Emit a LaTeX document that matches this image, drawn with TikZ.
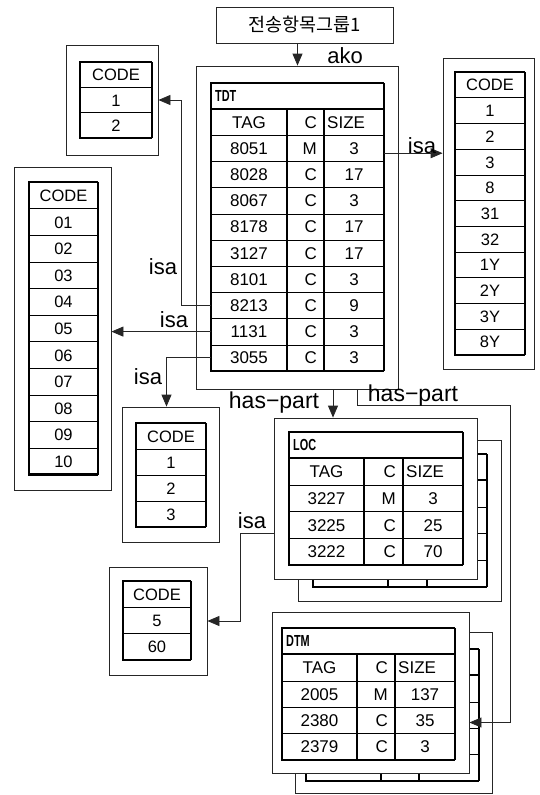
\documentclass[tikz,border=0pt]{standalone}
\usepackage{fontspec}
\usepackage{graphicx}
\setmainfont{Liberation Sans}
\newfontfamily\krfont{Noto Sans CJK KR}
\usetikzlibrary{arrows.meta}

\begin{document}
\begin{tikzpicture}[x=1pt,y=-1pt,font=\fontsize{17}{17}\selectfont]
\tikzstyle{outerbox}=[draw=black!85,line width=0.8pt,fill=white,inner sep=0pt]
\tikzstyle{heavy}=[line width=2.4pt]
\tikzstyle{rowline}=[line width=0.6pt]
\tikzstyle{cell}=[inner sep=0pt,text height=12.2pt,text depth=0pt]
\tikzstyle{codecell}=[cell,font=\fontsize{16.5}{16.5}\selectfont]
\tikzstyle{ttl}=[anchor=west,inner sep=0pt,font=\bfseries\fontsize{16}{16}\selectfont]
\tikzstyle{lbl}=[inner sep=0pt,font=\fontsize{22}{22}\selectfont]
\tikzstyle{link}=[draw=black!85,line width=0.8pt,-{Triangle[length=12pt,width=10pt]}]
\useasboundingbox (0,0) rectangle (539,795);

\node[draw=black!85,line width=0.8pt,minimum width=177pt,minimum height=36pt,
      font=\krfont\fontsize{18.5}{18.5}\selectfont] (grp) at (304.5,25) {전송항목그룹1};

% frames
\node[outerbox,minimum width=202pt,minimum height=323pt] (tdt) at (297,227.5) {};
\node[outerbox,minimum width=91pt,minimum height=311pt] (codeR) at (488.5,213.5) {};
\node[outerbox,minimum width=92pt,minimum height=110pt] (codeA) at (112,100) {};
\node[outerbox,minimum width=97pt,minimum height=323pt] (codeB) at (62.5,328.5) {};
\node[outerbox,minimum width=97pt,minimum height=135pt] (codeC) at (170.5,474.5) {};
\node[outerbox,minimum width=98pt,minimum height=108pt] (codeD) at (158,621) {};

% TDT
\node[ttl] (tdt-ttl) at (215,96) {\scalebox{0.68}[1]{TDT}};
\node[cell,minimum width=76pt] (tdt-h1) at (249,122) {TAG};
\node[cell,anchor=east] (tdt-h2) at (317,122) {C};
\node[cell,anchor=west] (tdt-h3) at (327,122) {SIZE};
\foreach \tg/\cc/\sz [count=\i] in {8051/M/3,8028/C/17,8067/C/3,8178/C/17,3127/C/17,8101/C/3,8213/C/9,1131/C/3,3055/C/3}{
  \node[cell,minimum width=76pt] (tdt-t\i) at (249,{122+26.2*\i}) {\tg};
  \node[cell,anchor=east] (tdt-c\i) at (317,{122+26.2*\i}) {\cc};
  \node[cell,minimum width=60pt] (tdt-s\i) at (354,{122+26.2*\i}) {\sz};
  \draw[rowline] (211,{109+26.2*\i}) -- (384,{109+26.2*\i});
}
\draw[heavy] (384,83) -- (211,83) -- (211,371) -- (384,371);
\draw[line width=1.2pt] (384,83) -- (384,371);
\draw[heavy] (211,109) -- (384,109) (287,109) -- (287,371) (324,109) -- (324,371);

% code tables
\foreach \v [count=\i] in {CODE,1,2,3,8,31,32,1Y,2Y,3Y,8Y}
  \node[codecell,minimum width=70pt] (cr-\i) at (490,{72+25.7*\i-12.85}) {\v};
\foreach \i in {1,...,10} \draw[rowline] (455,{72+25.7*\i}) -- (525,{72+25.7*\i});
\draw[heavy] (525,72) -- (455,72) -- (455,354.7) -- (525,354.7);
\draw[line width=1.2pt] (525,72) -- (525,354.7);

\foreach \v [count=\i] in {CODE,1,2}
  \node[codecell,minimum width=72pt] (ca-\i) at (116,{62+25.3*\i-12.65}) {\v};
\foreach \i in {1,2} \draw[rowline] (80,{62+25.3*\i}) -- (152,{62+25.3*\i});
\draw[heavy] (152,62) -- (80,62) -- (80,137.9) -- (152,137.9);
\draw[line width=1.2pt] (152,62) -- (152,137.9);

\foreach \v [count=\i] in {CODE,01,02,03,04,05,06,07,08,09,10}
  \node[codecell,minimum width=69pt] (cb-\i) at (63.5,{182+26.6*\i-13.3}) {\v};
\foreach \i in {1,...,10} \draw[rowline] (29,{182+26.6*\i}) -- (98,{182+26.6*\i});
\draw[heavy] (98,182) -- (29,182) -- (29,474.6) -- (98,474.6);
\draw[line width=1.2pt] (98,182) -- (98,474.6);

\foreach \v [count=\i] in {CODE,1,2,3}
  \node[codecell,minimum width=70pt] (cc-\i) at (171,{423+26*\i-13}) {\v};
\foreach \i in {1,2,3} \draw[rowline] (136,{423+26*\i}) -- (206,{423+26*\i});
\draw[heavy] (206,423) -- (136,423) -- (136,527) -- (206,527);
\draw[line width=1.2pt] (206,423) -- (206,527);

\foreach \v [count=\i] in {CODE,5,60}
  \node[codecell,minimum width=68pt] (cd-\i) at (157,{581+26.3*\i-13.15}) {\v};
\foreach \i in {1,2} \draw[rowline] (123,{581+26.3*\i}) -- (191,{581+26.3*\i});
\draw[heavy] (191,581) -- (123,581) -- (123,659.9) -- (191,659.9);
\draw[line width=1.2pt] (191,581) -- (191,659.9);

% LOC, back copy first
\node[outerbox,minimum width=203pt,minimum height=161pt] (locB) at (399.5,520.5) {};
\draw[heavy] (487,454) -- (313,454) -- (313,587) -- (487,587);
\draw[line width=1.2pt] (487,454) -- (487,587);
\draw[heavy] (313,480) -- (487,480) (388,480) -- (388,587) (427,480) -- (427,587);
\draw[rowline] (313,507) -- (487,507) (313,533.7) -- (487,533.7) (313,560.4) -- (487,560.4);
\node[outerbox,minimum width=203pt,minimum height=161pt] (loc) at (375.5,498.5) {};
\node[ttl] (loc-ttl) at (293,445) {\scalebox{0.68}[1]{LOC}};
\node[cell,minimum width=75pt] (loc-h1) at (326.5,471.5) {TAG};
\node[cell,anchor=east] (loc-h2) at (396,471.5) {C};
\node[cell,anchor=west] (loc-h3) at (406,471.5) {SIZE};
\foreach \tg/\cc/\sz [count=\i] in {3227/M/3,3225/C/25,3222/C/70}{
  \node[cell,minimum width=75pt] (loc-t\i) at (326.5,{471.6+26.7*\i}) {\tg};
  \node[cell,anchor=east] (loc-c\i) at (396,{471.6+26.7*\i}) {\cc};
  \node[cell,minimum width=60pt] (loc-s\i) at (433,{471.6+26.7*\i}) {\sz};
  \draw[rowline] (289,{458.3+26.7*\i}) -- (463,{458.3+26.7*\i});
}
\draw[heavy] (463,432) -- (289,432) -- (289,565) -- (463,565);
\draw[line width=1.2pt] (463,432) -- (463,565);
\draw[heavy] (289,458) -- (463,458) (364,458) -- (364,565) (403,458) -- (403,565);

% DTM, back copy first
\node[outerbox,minimum width=197pt,minimum height=161pt] (dtmB) at (393.5,712.5) {};
\draw[heavy] (479,649) -- (306,649) -- (306,781) -- (479,781);
\draw[line width=1.2pt] (479,649) -- (479,781);
\draw[heavy] (306,675) -- (479,675) (381,675) -- (381,781) (419,675) -- (419,781);
\draw[rowline] (306,702) -- (479,702) (306,728.3) -- (479,728.3) (306,754.6) -- (479,754.6);
\node[outerbox,minimum width=197pt,minimum height=161pt] (dtm) at (370.5,692.5) {};
\node[ttl] (dtm-ttl) at (286,641) {\scalebox{0.68}[1]{DTM}};
\node[cell,minimum width=75pt] (dtm-h1) at (319.5,667.5) {TAG};
\node[cell,anchor=east] (dtm-h2) at (388,667.5) {C};
\node[cell,anchor=west] (dtm-h3) at (398,667.5) {SIZE};
\foreach \tg/\cc/\sz [count=\i] in {2005/M/137,2380/C/35,2379/C/3}{
  \node[cell,minimum width=75pt] (dtm-t\i) at (319.5,{667.9+26.3*\i}) {\tg};
  \node[cell,anchor=east] (dtm-c\i) at (388,{667.9+26.3*\i}) {\cc};
  \node[cell,minimum width=60pt] (dtm-s\i) at (425,{667.9+26.3*\i}) {\sz};
  \draw[rowline] (282,{654.7+26.3*\i}) -- (455,{654.7+26.3*\i});
}
\draw[heavy] (455,628) -- (282,628) -- (282,760) -- (455,760);
\draw[line width=1.2pt] (455,628) -- (455,760);
\draw[heavy] (282,654) -- (455,654) (357,654) -- (357,760) (395,654) -- (395,760);

% links
\draw[link] ([xshift=-7pt]grp.south) -- ([xshift=-7pt]grp.south |- tdt.north);
\draw[link] ([yshift=-5pt]tdt-s1.east) -- ([yshift=-5pt]tdt-s1.east -| codeR.west);
\draw[link] (tdt-t7.west) -- ++(-29,0) |- (codeA.east);
\draw[link] (tdt-t8.west) -- (tdt-t8.west -| codeB.east);
\draw[link] (tdt-t9.west) -| ([xshift=-4pt]codeC.north);
\draw[link] ([xshift=36pt]tdt.south) -- ([xshift=36pt]tdt.south |- loc.north);
\draw[link] ([xshift=60pt]tdt.south) -- ++(0,16) -- ++(153,0) |- ([yshift=-30pt]dtm.east);
\draw[link] ([yshift=-35pt]loc.west) -- ++(-33,0) |- (codeD.east);

\node[lbl] (ako) at (345,56) {ako};
\node[lbl] (isa1) at (422,146) {isa};
\node[lbl] (isa2) at (163,267) {isa};
\node[lbl] (isa3) at (174,320) {isa};
\node[lbl] (isa4) at (148,377) {isa};
\node[lbl] (isa5) at (252,521) {isa};
\node[lbl,font=\fontsize{23}{23}\selectfont] (hp1) at (274,403) {has−part};
\node[lbl,font=\fontsize{23}{23}\selectfont] (hp2) at (413,396) {has−part};
\end{tikzpicture}
\end{document}
